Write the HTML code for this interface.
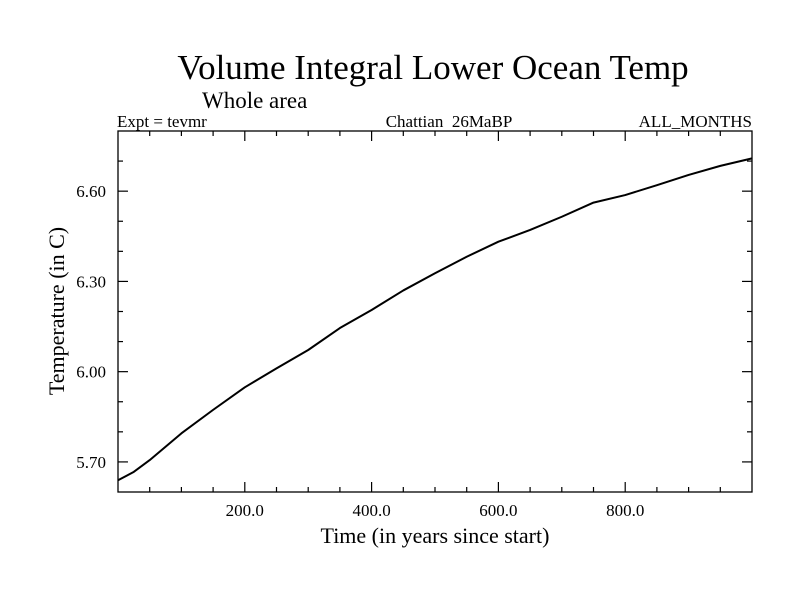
<!DOCTYPE html>
<html><head><meta charset="utf-8"><style>
body{margin:0;background:#fff}
svg text{font-family:"Liberation Serif",serif;fill:#000}
</style></head><body>
<svg width="800" height="600" id="c">
<rect width="800" height="600" fill="#fff"/>
<text x="433" y="79" font-size="35" text-anchor="middle">Volume Integral Lower Ocean Temp</text>
<text x="202" y="108" font-size="23">Whole area</text>
<text x="117" y="127" font-size="17">Expt = tevmr</text>
<text x="449" y="127" font-size="17" text-anchor="middle" xml:space="preserve">Chattian  26MaBP</text>
<text x="752" y="127" font-size="17" text-anchor="end">ALL_MONTHS</text>
<text x="435" y="543" font-size="22" text-anchor="middle">Time (in years since start)</text>
<text transform="translate(64,311) rotate(-90)" font-size="22" text-anchor="middle">Temperature (in C)</text>
<g id="axes"></g>
<rect x="118" y="131" width="634" height="361" fill="none" stroke="#000" stroke-width="1.3"/>
</svg>
<script>
const xs=[0,25,50,100,150,200,250,300,350,400,450,500,550,600,650,700,750,800,850,900,950,1000];
const ys=[5.639,5.667,5.706,5.795,5.873,5.948,6.011,6.072,6.145,6.205,6.27,6.327,6.382,6.432,6.471,6.515,6.562,6.587,6.62,6.654,6.684,6.709];
const xTicks=[200,400,600,800];
const xLabels=["200.0","400.0","600.0","800.0"];
const yTicks=[5.7,6.0,6.3,6.6];
const yLabels=["5.70","6.00","6.30","6.60"];
const L=118,R=752,T=131,B=492,x0=0,x1=1000,y0=5.6,y1=6.8;
const sx=v=>L+(v-x0)/(x1-x0)*(R-L), sy=v=>B-(v-y0)/(y1-y0)*(B-T);
const g=document.getElementById('axes'),NS="http://www.w3.org/2000/svg";
function ln(a,b,c,d){const e=document.createElementNS(NS,'line');e.setAttribute('x1',a);e.setAttribute('y1',b);e.setAttribute('x2',c);e.setAttribute('y2',d);e.setAttribute('stroke','#000');e.setAttribute('stroke-width','1.2');g.appendChild(e);return e;}
for(let v=50;v<1000;v+=50){const maj=v%200===0,len=maj?10:5;
 let e=ln(sx(v),B,sx(v),B-len);
 
 
 e=ln(sx(v),T,sx(v),T+len);
 
 }
for(let k=1;k<12;k++){const v=y0+k*0.1,maj=(k%3===1),len=maj?10:5;
 let e=ln(L,sy(v),L+len,sy(v));
 
 
 e=ln(R,sy(v),R-len,sy(v));
 
 }
xTicks.forEach((v,i)=>{const t=document.createElementNS(NS,'text');t.setAttribute('x',sx(v));t.setAttribute('y',B+24);t.setAttribute('font-size','17');t.setAttribute('text-anchor','middle');t.textContent=xLabels[i];
 
 
 g.appendChild(t);});
yTicks.forEach((v,i)=>{const t=document.createElementNS(NS,'text');t.setAttribute('x',L-12);t.setAttribute('y',sy(v)+6);t.setAttribute('font-size','17');t.setAttribute('text-anchor','end');t.textContent=yLabels[i];
 
 
 g.appendChild(t);});
const p=document.createElementNS(NS,'polyline');
p.setAttribute('points',xs.map((v,i)=>sx(v)+','+sy(ys[i])).join(' '));
p.setAttribute('fill','none');p.setAttribute('stroke','#000');p.setAttribute('stroke-width','2');p.setAttribute('stroke-linejoin','round');


g.appendChild(p);
</script>
</body></html>
